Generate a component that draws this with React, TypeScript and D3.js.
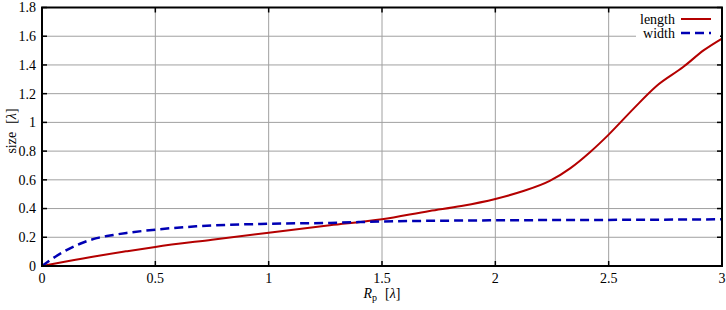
import React from "react";
import * as d3 from "d3";

const lengthX = [0, 0.1, 0.25, 0.37, 0.5, 0.75, 1.0, 1.27, 1.5, 1.71, 1.85, 2.0, 2.12, 2.24, 2.33, 2.42, 2.5, 2.61, 2.71, 2.83, 2.92, 3.0];
const lengthY = [0, 0.03, 0.072, 0.102, 0.133, 0.183, 0.232, 0.283, 0.325, 0.383, 0.418, 0.467, 0.52, 0.592, 0.68, 0.796, 0.915, 1.096, 1.252, 1.387, 1.503, 1.584];
const widthX = [0, 0.035, 0.094, 0.168, 0.241, 0.314, 0.373, 0.5, 0.68, 1.0, 1.27, 1.5, 2.0, 2.5, 3.0];
const widthY = [0, 0.04, 0.098, 0.155, 0.194, 0.216, 0.23, 0.253, 0.276, 0.294, 0.30, 0.31, 0.318, 0.321, 0.325];
const xTicks = [0, 0.5, 1, 1.5, 2, 2.5, 3];
const yTicks = [0, 0.2, 0.4, 0.6, 0.8, 1, 1.2, 1.4, 1.6, 1.8];

const W = 726, H = 310;
const L = 42, R = 722, T = 7.5, B = 266;
const RED = "#b40000", BLUE = "#0000b4";
const FONT = "'Liberation Serif', 'Times New Roman', serif";

export default function App() {
  const x = d3.scaleLinear().domain([0, 3]).range([L, R]);
  const y = d3.scaleLinear().domain([0, 1.8]).range([B, T]);
  const line = d3.line<[number, number]>().x(d => x(d[0])).y(d => y(d[1])).curve(d3.curveMonotoneX);
  const lenPts: [number, number][] = lengthX.map((v, i) => [v, lengthY[i]]);
  const widPts: [number, number][] = widthX.map((v, i) => [v, widthY[i]]);
  const fmt = (v: number) => String(v);
  return (
    <svg width={W} height={H} style={{ position: "absolute", left: 0, top: 0, background: "#fff" }} fontFamily={FONT}>
      <rect x={0} y={0} width={W} height={H} fill="#fff" />
      {yTicks.slice(1, -1).map(t => (
        <line key={"gy" + t} x1={L} x2={R} y1={y(t)} y2={y(t)} stroke="#a0a0a0" strokeWidth={1} />
      ))}
      {xTicks.slice(1, -1).map(t => (
        <line key={"gx" + t} x1={x(t)} x2={x(t)} y1={T} y2={B} stroke="#a0a0a0" strokeWidth={1} />
      ))}
      {yTicks.map(t => (
        <g key={"ty" + t}>
          <line x1={L} x2={L + 5} y1={y(t)} y2={y(t)} stroke="#000" strokeWidth={1.5} />
          <line x1={R - 5} x2={R} y1={y(t)} y2={y(t)} stroke="#000" strokeWidth={1.5} />
          <text x={36} y={y(t)} dy="0.35em" textAnchor="end" fontSize={14}>{fmt(t)}</text>
        </g>
      ))}
      {xTicks.map(t => (
        <g key={"tx" + t}>
          <line x1={x(t)} x2={x(t)} y1={B} y2={B - 5} stroke="#000" strokeWidth={1.5} />
          <line x1={x(t)} x2={x(t)} y1={T} y2={T + 5} stroke="#000" strokeWidth={1.5} />
          <text x={x(t)} y={283} textAnchor="middle" fontSize={14}>{fmt(t)}</text>
        </g>
      ))}
      <rect x={636} y={T + 1.5} width={R - 2 - 636} height={30} fill="#fff" />
      <path d={line(lenPts) || ""} fill="none" stroke={RED} strokeWidth={2} />
      <path d={line(widPts) || ""} fill="none" stroke={BLUE} strokeWidth={2.5} strokeDasharray="9,5" />
      <rect x={L} y={T} width={R - L} height={B - T} fill="none" stroke="#000" strokeWidth={2} />
      <text x={675} y={19} dy="0.35em" textAnchor="end" fontSize={14}>length</text>
      <line x1={681} x2={711} y1={19} y2={19} stroke={RED} strokeWidth={2} />
      <text x={675} y={33} dy="0.35em" textAnchor="end" fontSize={14}>width</text>
      <line x1={681} x2={711} y1={33} y2={33} stroke={BLUE} strokeWidth={2.5} strokeDasharray="9,5" />
      <text x={382} y={298} textAnchor="middle" fontSize={14}>
        <tspan fontStyle="italic">R</tspan>
        <tspan fontSize={10} dy={3}>p</tspan>
        <tspan dy={-3} dx={8}>[</tspan>
        <tspan fontStyle="italic">λ</tspan>
        <tspan>]</tspan>
      </text>
      <text transform={`translate(16,131) rotate(-90)`} textAnchor="middle" fontSize={14}>
        <tspan>size</tspan>
        <tspan dx={8}>[</tspan>
        <tspan fontStyle="italic">λ</tspan>
        <tspan>]</tspan>
      </text>
    </svg>
  );
}
